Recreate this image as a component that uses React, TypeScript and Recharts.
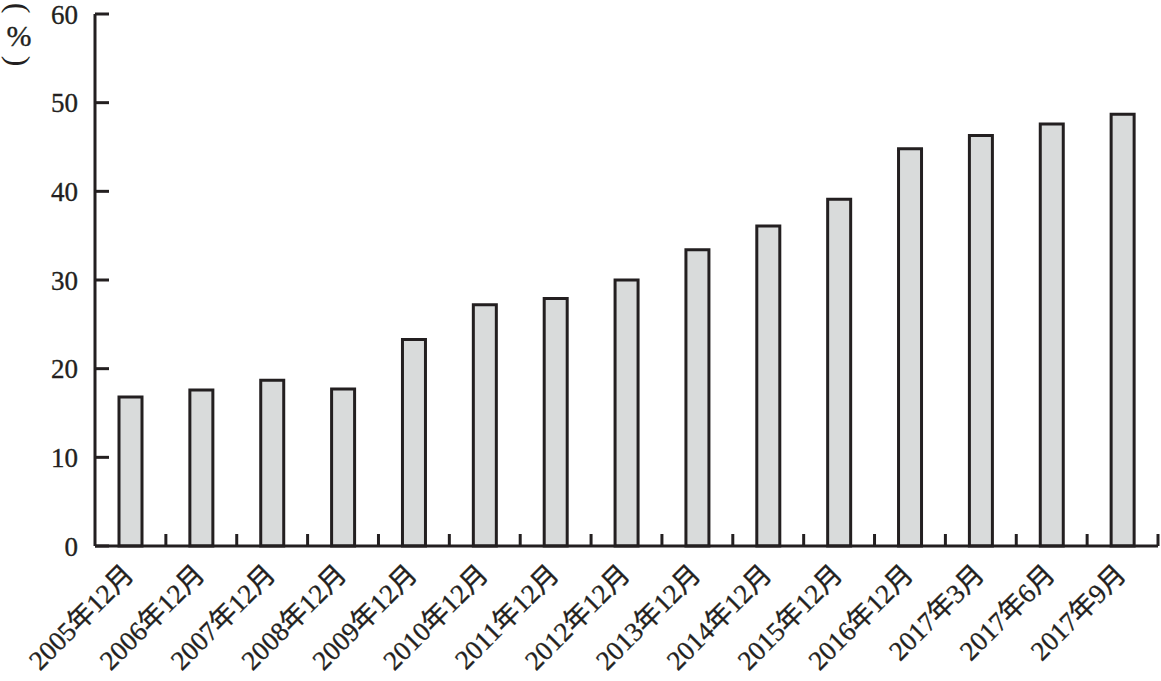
import { BarChart, Bar, XAxis, YAxis } from 'recharts'

const categories = [
  '2005年12月',
  '2006年12月',
  '2007年12月',
  '2008年12月',
  '2009年12月',
  '2010年12月',
  '2011年12月',
  '2012年12月',
  '2013年12月',
  '2014年12月',
  '2015年12月',
  '2016年12月',
  '2017年3月',
  '2017年6月',
  '2017年9月',
]

const shares = [16.8, 17.6, 18.7, 17.7, 23.3, 27.2, 27.9, 30.0, 33.4, 36.1, 39.1, 44.8, 46.3, 47.6, 48.7]

const yTicks = [0, 10, 20, 30, 40, 50, 60]

const data = categories.map((name, i) => ({ name, value: shares[i] }))

const W = 1161
const H = 681
const PLOT_LEFT = 95
const PLOT_RIGHT = 1158
const PLOT_TOP = 14
const PLOT_BOTTOM = 546
const BAND = (PLOT_RIGHT - PLOT_LEFT) / categories.length

const INK = '#231f20'
const FONT = "'Liberation Serif', 'Times New Roman', 'Noto Sans CJK SC', serif"

// slightly heavier glyphs, like the scanned original
const textStyle = { stroke: INK, strokeWidth: 0.35 }

function YTick(props: any) {
  const { x, y, payload } = props
  return (
    <g>
      <line x1={x + 17} x2={x + 31} y1={y} y2={y} stroke={INK} strokeWidth={3} />
      <text x={x} y={y} dy="0.36em" textAnchor="end" fontSize={27} fontFamily={FONT} fill={INK} style={textStyle}>
        {payload.value}
      </text>
    </g>
  )
}

function XTick(props: any) {
  const { x, y, payload } = props
  const bx = x + BAND / 2
  return (
    <g>
      <line x1={bx} x2={bx} y1={y} y2={y - 12} stroke={INK} strokeWidth={3} />
      <text
        x={0}
        y={0}
        transform={`translate(${x + 5},${y + 30}) rotate(-45)`}
        textAnchor="end"
        fontSize={27}
        fontFamily={FONT}
        fill={INK}
        style={textStyle}
      >
        {payload.value}
      </text>
    </g>
  )
}

export default function App() {
  return (
    <div style={{ position: 'absolute', left: 0, top: 0, width: W, height: H, background: '#fff' }}>
      <BarChart
        width={W}
        height={H}
        data={data}
        margin={{ top: PLOT_TOP, right: W - PLOT_RIGHT, left: 0, bottom: 7 }}
        barCategoryGap={0}
      >
        <XAxis
          dataKey="name"
          interval={0}
          height={H - PLOT_BOTTOM - 7}
          tickSize={0}
          tickMargin={0}
          tick={<XTick />}
          axisLine={{ stroke: INK, strokeWidth: 3 }}
          tickLine={false}
        />
        <YAxis
          width={PLOT_LEFT}
          domain={[0, 60]}
          ticks={yTicks}
          interval={0}
          tickSize={0}
          tickMargin={17}
          tick={<YTick />}
          axisLine={{ stroke: INK, strokeWidth: 3 }}
          tickLine={false}
        />
        <Bar dataKey="value" fill="#d9dbdb" stroke={INK} strokeWidth={3} barSize={23} isAnimationActive={false} />
      </BarChart>
      <svg
        width={40}
        height={72}
        style={{ position: 'absolute', left: 0, top: 0 }}
        fontFamily={FONT}
        fill={INK}
      >
        <text x={19} y={8} textAnchor="middle" dominantBaseline="central" fontSize={32} transform="rotate(90 19 8)">
          (
        </text>
        <text x={19} y={35} dy="0.35em" textAnchor="middle" fontSize={30} style={textStyle}>
          %
        </text>
        <text x={19} y={61} textAnchor="middle" dominantBaseline="central" fontSize={32} transform="rotate(90 19 61)">
          )
        </text>
      </svg>
    </div>
  )
}
